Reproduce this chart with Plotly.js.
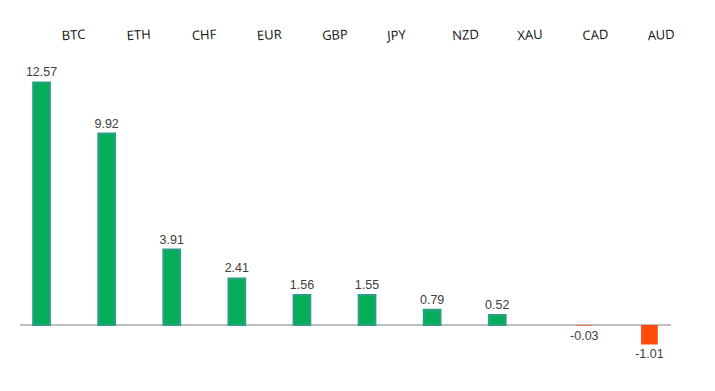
<!DOCTYPE html>
<html>
<head>
<meta charset="utf-8">
<script src="https://cdn.plot.ly/plotly-3.0.1.min.js"></script>
<style>html,body{margin:0;padding:0;background:#fff;}#chart{width:715px;height:391px;}</style>
</head>
<body>
<div id="chart"></div>
<script>
const categories = ["BTC", "ETH", "CHF", "EUR", "GBP", "JPY", "NZD", "XAU", "CAD", "AUD"];
const values = [12.57, 9.92, 3.91, 2.41, 1.56, 1.55, 0.79, 0.52, -0.03, -1.01];

const posVals = values.map(v => v >= 0 ? v : null);
const negVals = values.map(v => v < 0 ? v : null);
const fmt = arr => arr.map(v => v === null ? "" : v.toFixed(2));

const traces = [
  {
    type: "bar", x: categories, y: posVals, text: fmt(posVals),
    textposition: "outside", cliponaxis: false, constraintext: "none",
    textfont: {family: "Liberation Sans, Arial, sans-serif", size: 12.5, color: "#404040"},
    marker: {color: "#06ad58", line: {color: "#2b9e88", width: 2}},
    hoverinfo: "x+y", showlegend: false
  },
  {
    type: "bar", x: categories, y: negVals, text: fmt(negVals),
    textposition: "outside", cliponaxis: false, constraintext: "none",
    textfont: {family: "Liberation Sans, Arial, sans-serif", size: 12.5, color: "#404040"},
    marker: {color: "#ff4a0a", line: {color: "#ff5a20", width: 0}},
    hoverinfo: "x+y", showlegend: false
  }
];

const layout = {
  width: 715, height: 391,
  margin: {l: 20, r: 44, t: 60, b: 11},
  paper_bgcolor: "#ffffff", plot_bgcolor: "#ffffff",
  barmode: "group", bargap: 0.324, bargroupgap: 0.24,
  xaxis: {
    type: "category", side: "top", showgrid: false, showline: false, ticks: "",
    tickangle: -4, ticklabelstandoff: 16, ticklabelshift: 9,
    tickfont: {family: "Open Sans, Lato, sans-serif", size: 13, color: "#111111"},
    zeroline: false, fixedrange: true
  },
  yaxis: {
    range: [-2.85, 13.73], showgrid: false, showticklabels: false, ticks: "",
    zeroline: true, zerolinecolor: "#bfbfbf", zerolinewidth: 2, showline: false, fixedrange: true
  },
  font: {family: "Liberation Sans, Arial, sans-serif"}
};

Plotly.newPlot("chart", traces, layout, {displayModeBar: false, staticPlot: true});
</script>
</body>
</html>
